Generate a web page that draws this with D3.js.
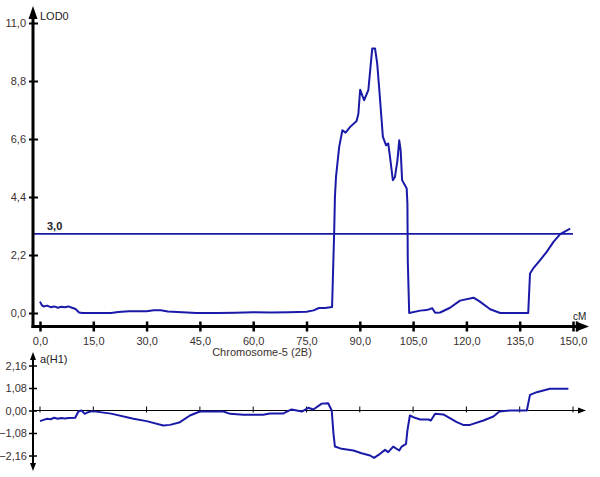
<!DOCTYPE html>
<html><head><meta charset="utf-8">
<script src="https://cdn.jsdelivr.net/npm/d3@7"></script>
<style>body{margin:0;background:#fff}svg{display:block}text{font-family:"Liberation Sans",Arial,sans-serif}</style>
</head><body><svg id="c" width="600" height="477"></svg>
<script>
// ---- data ----
const xTicks = [0, 15, 30, 45, 60, 75, 90, 105, 120, 135, 150];
const yTicksTop = [0, 2.2, 4.4, 6.6, 8.8, 11];
const yTicksBot = [-2.16, -1.08, 0, 1.08, 2.16];
const threshold = 3.0;
const cmTop = [0,0.5,1,2,3,4,5,6,7,8,9,10,11,12,20,22,25,30,32,34,36,40,44,50,55,60,65,70,75,77,78.5,80.2,82.2,82.8,83.0,83.3,83.7,84.2,85.1,86.0,87.3,89.1,89.6,90.1,91.2,92.4,93.1,93.5,94.3,94.9,95.5,96.0,96.5,97.4,98.0,98.5,99.3,99.9,100.6,101.1,101.5,101.9,102.7,103.2,103.4,103.5,103.9,107.0,108.8,110.4,111.2,112.6,115.4,118.2,122.0,123.8,126.7,129.5,137.4,137.9,138.8,140.7,142.6,144.5,146.4,147.8,149.2];
const lodTop = [0.43,0.3,0.25,0.28,0.22,0.25,0.2,0.24,0.22,0.25,0.2,0.15,0.02,0,0,0.04,0.07,0.07,0.1,0.1,0.06,0.03,0,0,0.01,0.03,0.02,0.03,0.05,0.1,0.19,0.19,0.23,3.14,4.4,5.16,5.67,6.3,6.93,6.84,7.06,7.28,7.56,8.47,8.07,8.45,9.46,10.03,10.03,9.46,8.45,7.56,6.68,6.36,6.43,5.92,5.04,5.16,5.8,6.55,6.17,5.04,4.85,4.72,4.15,2.0,0,0.09,0.11,0.18,0.01,0.02,0.2,0.47,0.58,0.43,0.14,0,0,1.5,1.69,2.0,2.32,2.7,2.99,3.1,3.2];
const cmBot = [0,1,2,3,4,5,6,7,8,9.9,10.8,11.7,12.6,13.5,14.8,20,26.3,30,34.7,36.6,39.4,42.2,45,51.6,53.5,57.2,62.8,64.7,68.5,70.8,73.7,75.5,76.9,79.3,81.1,82.1,82.6,83.0,84.9,88.2,90.5,92.9,94.0,95.7,97.1,98.0,99.4,101.1,101.8,103.0,103.4,104.1,105.5,107.0,109.3,110.0,111.2,113.5,117.3,119.1,121.0,124.8,127.6,129.3,132.3,137.0,137.9,139.8,143.5,148.7];
const aBot = [-0.51,-0.45,-0.40,-0.42,-0.35,-0.40,-0.36,-0.38,-0.36,-0.35,-0.05,0,-0.16,-0.08,-0.03,-0.15,-0.4,-0.51,-0.72,-0.69,-0.56,-0.24,-0.05,-0.05,-0.16,-0.2,-0.2,-0.14,-0.14,0.05,-0.05,0.13,0.05,0.33,0.35,0,-1.12,-1.73,-1.84,-1.92,-2.05,-2.16,-2.27,-2.08,-1.89,-2.0,-1.73,-1.92,-1.73,-1.6,-0.96,-0.24,-0.35,-0.43,-0.43,-0.48,-0.16,-0.19,-0.56,-0.69,-0.69,-0.48,-0.29,-0.05,0,0,0.75,0.88,1.04,1.04];

// ---- drawing ----
const svg = d3.select("#c");
const blue = "#1a1aa8";
const lbl = "#3a3030";
const comma = s => s.replace(".", ",");
const fmt1 = d => comma(d3.format(".1f")(d));
const fmt2 = d => comma(d3.format(".2f")(d));

const x = d3.scaleLinear().domain([0, 150]).range([40, 573]);
const yT = d3.scaleLinear().domain([0, 11]).range([313, 23]);
const yB = d3.scaleLinear().domain([-2.16, 2.16]).range([455.5, 365.5]);
const axX = 33, topBase = 326.5;

// ===== top panel =====
// threshold line
svg.append("line").attr("x1", axX).attr("x2", x(150)).attr("y1", yT(threshold)).attr("y2", yT(threshold))
  .attr("stroke", blue).attr("stroke-width", 1.6);
svg.append("text").attr("x", 47).attr("y", yT(threshold) - 4).attr("font-size", 11).attr("font-weight", "bold")
  .attr("fill", "#222").text(fmt1(threshold));

// LOD curve
svg.append("path").datum(cmTop.map((c, i) => [c, lodTop[i]]))
  .attr("fill", "none").attr("stroke", blue).attr("stroke-width", 2).attr("stroke-linejoin", "round")
  .attr("d", d3.line().x(d => x(d[0])).y(d => yT(d[1])));

// y axis
const gyT = svg.append("g").attr("transform", `translate(${axX},0)`)
  .call(d3.axisLeft(yT).tickValues(yTicksTop).tickFormat(fmt1).tickSize(4).tickPadding(3));
gyT.select(".domain").remove();
gyT.selectAll(".tick line").attr("x1", -4).attr("x2", 5).attr("stroke", "#000").attr("stroke-width", 2);
gyT.selectAll(".tick text").attr("font-size", 11).attr("fill", lbl).attr("font-family", "Liberation Sans, Arial, sans-serif");
svg.append("line").attr("x1", axX).attr("x2", axX).attr("y1", 16).attr("y2", topBase + 1.5).attr("stroke", "#000").attr("stroke-width", 3);
svg.append("path").attr("d", `M${axX},6 L${axX - 4.5},19 L${axX + 4.5},19 Z`).attr("fill", "#000");
svg.append("text").attr("x", 40).attr("y", 20).attr("font-size", 11).attr("fill", "#222").text("LOD0");

// x axis
const gxT = svg.append("g").attr("transform", `translate(0,${topBase})`)
  .call(d3.axisBottom(x).tickValues(xTicks).tickFormat(fmt1).tickSize(5).tickPadding(6));
gxT.select(".domain").remove();
gxT.selectAll(".tick line").attr("y1", -5).attr("y2", 5).attr("stroke", "#000").attr("stroke-width", 2.5);
gxT.selectAll(".tick text").attr("font-size", 11).attr("fill", lbl).attr("font-family", "Liberation Sans, Arial, sans-serif");
svg.append("line").attr("x1", axX - 1.5).attr("x2", 580).attr("y1", topBase).attr("y2", topBase).attr("stroke", "#000").attr("stroke-width", 3);
svg.append("line").attr("x1", x(150) + 4).attr("x2", x(150) + 4).attr("y1", topBase - 5).attr("y2", topBase + 5).attr("stroke", "#000").attr("stroke-width", 2.5);
svg.append("path").attr("d", `M589,${topBase} L576,${topBase - 5} L576,${topBase + 5} Z`).attr("fill", "#000");
svg.append("text").attr("x", 573).attr("y", 320).attr("font-size", 10).attr("fill", "#222").text("cM");
svg.append("text").attr("x", 262).attr("y", 356).attr("font-size", 11).attr("text-anchor", "middle").attr("fill", lbl).text("Chromosome-5 (2B)");

// ===== bottom panel =====
const zeroB = yB(0);
svg.append("line").attr("x1", axX).attr("x2", 580).attr("y1", zeroB).attr("y2", zeroB).attr("stroke", "#000").attr("stroke-width", 1);
svg.append("path").attr("d", `M586,${zeroB} L578,${zeroB - 3} L578,${zeroB + 3} Z`).attr("fill", "#000");
svg.selectAll("line.bt").data(xTicks).join("line").attr("class", "bt")
  .attr("x1", d => x(d)).attr("x2", d => x(d)).attr("y1", zeroB - 4).attr("y2", zeroB + 2).attr("stroke", "#000").attr("stroke-width", 1);

svg.append("path").datum(cmBot.map((c, i) => [c, aBot[i]]))
  .attr("fill", "none").attr("stroke", blue).attr("stroke-width", 2).attr("stroke-linejoin", "round")
  .attr("d", d3.line().x(d => x(d[0])).y(d => yB(d[1])));

const gyB = svg.append("g").attr("transform", `translate(${axX},0)`)
  .call(d3.axisLeft(yB).tickValues(yTicksBot).tickFormat(fmt2).tickSize(4).tickPadding(2));
gyB.select(".domain").remove();
gyB.selectAll(".tick line").attr("x1", -4).attr("x2", 4).attr("stroke", "#000").attr("stroke-width", 1.5);
gyB.selectAll(".tick text").attr("font-size", 11).attr("fill", lbl).attr("font-family", "Liberation Sans, Arial, sans-serif");
svg.append("line").attr("x1", axX).attr("x2", axX).attr("y1", 356).attr("y2", 466).attr("stroke", "#000").attr("stroke-width", 2);
svg.append("path").attr("d", `M${axX},352 L${axX - 3},360 L${axX + 3},360 Z`).attr("fill", "#000");
svg.append("path").attr("d", `M${axX},471 L${axX - 3},463 L${axX + 3},463 Z`).attr("fill", "#000");
svg.append("text").attr("x", 40).attr("y", 363).attr("font-size", 11).attr("fill", "#222").text("a(H1)");
</script></body></html>
